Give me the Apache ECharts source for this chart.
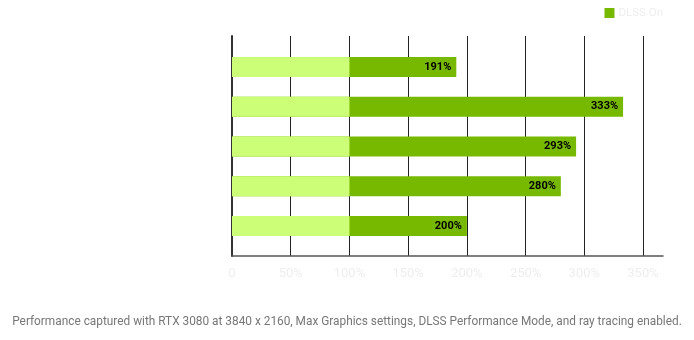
<!DOCTYPE html>
<html>
<head>
<meta charset="utf-8">
<script src="https://cdn.jsdelivr.net/npm/echarts@6/dist/echarts.min.js"></script>
<style>
html,body{margin:0;padding:0;background:#fff;}
#chart{width:694px;height:340px;}
</style>
</head>
<body>
<div id="chart"></div>
<script>
var categories = ['Game 1', 'Game 2', 'Game 3', 'Game 4', 'Game 5'];
var dlssOn = [191, 333, 293, 280, 200];
var dlssOff = [100, 100, 100, 100, 100];
var xTicks = [0, 50, 100, 150, 200, 250, 300, 350];
var footnote = 'Performance captured with RTX 3080 at 3840 x 2160, Max Graphics settings, DLSS Performance Mode, and ray tracing enabled.';

var FONT = 'Roboto, "Noto Sans", sans-serif';
var xMax = 367;

var chart = echarts.init(document.getElementById('chart'), null, {renderer: 'canvas'});
chart.setOption({
  animation: false,
  backgroundColor: '#fff',
  textStyle: {fontFamily: FONT},
  title: {
    text: footnote,
    left: 'center',
    top: 311,
    textStyle: {color: '#777', fontSize: 11.85, fontWeight: 'normal', fontFamily: FONT}
  },
  legend: {
    data: ['DLSS On'],
    right: 31,
    top: 7,
    padding: 0,
    icon: 'rect',
    itemWidth: 10,
    itemHeight: 10,
    itemGap: 10,
    textStyle: {color: '#eeeeee', fontSize: 11.5, fontFamily: FONT, padding: [0,0,0,-1]}
  },
  grid: [
    {left: 232, right: 31, top: 36, height: 220, containLabel: false},
    {left: 232, right: 31, top: 47, height: 199, containLabel: false}
  ],
  xAxis: [
    {
      gridIndex: 0, type: 'value', min: 0, max: xMax, interval: 50,
      axisLine: {show: true, lineStyle: {color: '#555', width: 1.5}},
      axisTick: {show: false},
      axisLabel: {
        color: '#eeeeee', fontSize: 13, margin: 11, fontFamily: FONT,
        showMaxLabel: false,
        formatter: function (v) { return xTicks.indexOf(v) < 0 ? '' : (v === 0 ? '0' : v + '%'); }
      },
      splitLine: {show: true, showMinLine: false, showMaxLine: false, lineStyle: {color: '#222', width: 1}}
    },
    {
      gridIndex: 1, type: 'value', min: 0, max: xMax, show: false
    }
  ],
  yAxis: [
    {
      gridIndex: 0, type: 'value', min: 0, max: 1,
      axisLine: {show: true, lineStyle: {color: '#333', width: 2}},
      axisTick: {show: false}, axisLabel: {show: false}, splitLine: {show: false}
    },
    {
      gridIndex: 1, type: 'category', data: categories, inverse: true,
      axisLine: {show: false}, axisTick: {show: false},
      axisLabel: {show: false}, splitLine: {show: false}
    }
  ],
  series: [
    {
      name: 'DLSS On', type: 'bar', xAxisIndex: 1, yAxisIndex: 1,
      data: dlssOn, barWidth: 20, z: 2,
      itemStyle: {color: '#76b900'},
      label: {
        show: true, position: 'insideRight', distance: 5,
        color: '#000', fontSize: 11, fontWeight: 'bold', fontFamily: FONT,
        formatter: '{c}%'
      }
    },
    {
      name: 'DLSS Off', type: 'bar', xAxisIndex: 1, yAxisIndex: 1,
      data: dlssOff, barWidth: 20, barGap: '-100%', z: 3,
      itemStyle: {color: '#ccff77'}
    }
  ]
});
</script>
</body>
</html>
